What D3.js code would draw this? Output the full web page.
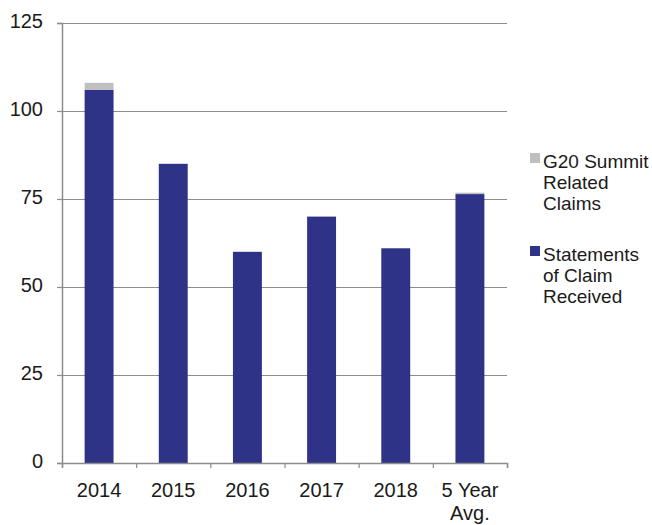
<!DOCTYPE html>
<html>
<head>
<meta charset="utf-8">
<script src="https://cdn.jsdelivr.net/npm/d3@7"></script>
<style>
  body { margin: 0; background: #fff; }
  text { font-family: "Liberation Sans", Arial, sans-serif; fill: #1a1a1a; }
</style>
</head>
<body>
<script>
const width = 652;
const height = 525;
const margin = { top: 23, right: 145, bottom: 62, left: 62 };

const chartWidth = width - margin.left - margin.right;
const chartHeight = height - margin.top - margin.bottom;

const categories = ["2014", "2015", "2016", "2017", "2018", "5 Year\nAvg."];
const statements = [106, 85, 60, 70, 61, 76.4];
const g20 = [2, 0, 0, 0, 0, 0.4];
const yTicks = [0, 25, 50, 75, 100, 125];

const seriesNames = ["Statements of Claim Received", "G20 Summit Related Claims"];
const colors = ["#2e3388", "#bfbfbf"];

const rows = categories.map((c, i) => ({ cat: c, s: statements[i], g: g20[i] }));
const stacked = d3.stack().keys(["s", "g"])(rows);

const svg = d3.select("body")
  .append("svg")
  .attr("width", width)
  .attr("height", height);

const g = svg.append("g")
  .attr("transform", `translate(${margin.left}, ${margin.top})`);

const x = d3.scaleBand().domain(categories).range([0, chartWidth]);
const y = d3.scaleLinear().domain([0, 125]).range([chartHeight, 0]);

const axisColor = "#8c8c8c";

// gridlines
g.append("g")
  .attr("class", "grid")
  .call(d3.axisLeft(y).tickValues(yTicks).tickSize(-chartWidth).tickFormat(""))
  .call(s => s.select(".domain").remove())
  .call(s => s.selectAll("line").attr("stroke", axisColor).attr("stroke-width", 1.2));

// bars
const barW = x.bandwidth() * 0.39;
g.selectAll(".series")
  .data(stacked)
  .enter()
  .append("g")
  .attr("fill", (d, i) => colors[i])
  .selectAll("rect")
  .data(d => d)
  .enter()
  .append("rect")
  .attr("x", d => x(d.data.cat) + (x.bandwidth() - barW) / 2)
  .attr("y", d => y(d[1]))
  .attr("width", barW)
  .attr("height", d => y(d[0]) - y(d[1]));

// y axis
g.append("g")
  .call(d3.axisLeft(y).tickValues(yTicks).tickSize(5).tickPadding(14))
  .call(s => s.select(".domain").attr("stroke", axisColor).attr("stroke-width", 1.5))
  .call(s => s.selectAll(".tick line").attr("stroke", axisColor).attr("stroke-width", 1.2))
  .call(s => s.selectAll("text")
    .attr("font-size", 20)
    .attr("font-family", "Liberation Sans, Arial, sans-serif")
    .attr("fill", "#1a1a1a")
    .attr("dy", "0.22em"));

// x axis: boundary ticks
const xb = d3.scaleLinear().domain([0, categories.length]).range([0, chartWidth]);
g.append("g")
  .attr("transform", `translate(0, ${chartHeight})`)
  .call(d3.axisBottom(xb).ticks(categories.length).tickSize(5).tickFormat(""))
  .call(s => s.select(".domain").attr("stroke", axisColor).attr("stroke-width", 1.5))
  .call(s => s.selectAll(".tick line").attr("stroke", axisColor).attr("stroke-width", 1.2));

// x labels
const xLabels = g.append("g")
  .attr("transform", `translate(0, ${chartHeight})`)
  .call(d3.axisBottom(x).tickSize(0).tickPadding(20))
  .call(s => s.select(".domain").remove());
xLabels.selectAll("text")
  .attr("font-size", 20)
  .attr("font-family", "Liberation Sans, Arial, sans-serif")
  .attr("fill", "#1a1a1a")
  .each(function (d) {
    const t = d3.select(this);
    const lines = d.split("\n");
    t.text(null);
    lines.forEach((ln, i) => {
      t.append("tspan")
        .attr("x", 0)
        .attr("dy", i === 0 ? "0.71em" : "1.15em")
        .text(ln);
    });
  });

// legend
const legendItems = [
  { lines: ["G20 Summit", "Related", "Claims"], color: colors[1], y: 153 },
  { lines: ["Statements", "of Claim", "Received"], color: colors[0], y: 246 }
];
const legend = svg.append("g");
legendItems.forEach(item => {
  legend.append("rect")
    .attr("x", 530)
    .attr("y", item.y)
    .attr("width", 10)
    .attr("height", 10)
    .attr("fill", item.color);
  const t = legend.append("text")
    .attr("x", 543)
    .attr("y", item.y + 15)
    .attr("font-size", 19);
  item.lines.forEach((ln, i) => {
    t.append("tspan")
      .attr("x", 543)
      .attr("dy", i === 0 ? 0 : 21)
      .text(ln);
  });
});
</script>
</body>
</html>
